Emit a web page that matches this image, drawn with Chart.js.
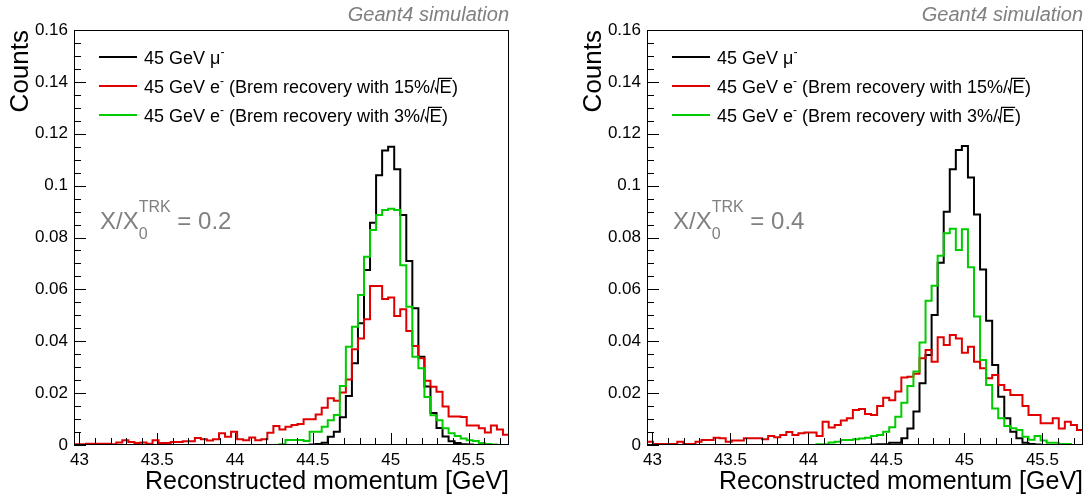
<!DOCTYPE html>
<html>
<head>
<meta charset="utf-8">
<script src="https://cdn.jsdelivr.net/npm/chart.js@4.4.0/dist/chart.umd.min.js"></script>
<style>
    body { margin: 0; background: #fff; width: 1089px; height: 499px; overflow: hidden; position: relative; }
    canvas { position: absolute; top: 0; }
</style>
</head>
<body>
<canvas id="leftChart" width="545" height="499" style="left:0"></canvas>
<canvas id="rightChart" width="544" height="499" style="left:545px"></canvas>
<script>
// Histogram range (72 bins) and axis ticks
const binLow = 42.965;
const binHigh = 45.76;
const xTicks = [43, 43.5, 44, 44.5, 45, 45.5];
const xLabels = ['43', '43.5', '44', '44.5', '45', '45.5'];
const yTicks = [0, 0.02, 0.04, 0.06, 0.08, 0.1, 0.12, 0.14, 0.16];
const yLabels = ['0', '0.02', '0.04', '0.06', '0.08', '0.1', '0.12', '0.14', '0.16'];
const panelLabels = ['0.2', '0.4'];

// Left panel, X/X0 = 0.2
const muonA = [
    0, 0, 0, 0, 0, 0, 0, 0, 0, 0,
    0, 0, 0, 0, 0, 0, 0, 0, 0, 0,
    0, 0, 0, 0, 0, 0, 0, 0, 0, 0,
    0, 0, 0, 0, 0, 0, 0, 0, 0, 0.0002,
    0.0004, 0.0009, 0.0032, 0.0051, 0.0107, 0.0189, 0.0315, 0.0469, 0.0675, 0.0857,
    0.104, 0.1135, 0.115, 0.1063, 0.0887, 0.0709, 0.0527, 0.034, 0.0226, 0.0123,
    0.0066, 0.0033, 0.0014, 0.0008, 0.0003, 0.0002, 0, 0, 0, 0,
    0, 0
];
const brem15A = [
    0.0003, 0.0003, 0.0005, 0.0005, 0.0005, 0.0005, 0.0003, 0.001, 0.0018, 0.0012,
    0.0008, 0.001, 0.0005, 0.0018, 0.0008, 0.0008, 0.0012, 0.0012, 0.0014, 0.0014,
    0.0027, 0.0022, 0.0017, 0.0022, 0.0045, 0.0032, 0.0051, 0.0022, 0.0018, 0.0029,
    0.0018, 0.0022, 0.0047, 0.0073, 0.006, 0.007, 0.0077, 0.0081, 0.0099, 0.0099,
    0.0118, 0.0144, 0.018, 0.0171, 0.0202, 0.0253, 0.0369, 0.0411, 0.0485, 0.0613,
    0.0613, 0.0563, 0.0569, 0.0497, 0.0523, 0.044, 0.0382, 0.0334, 0.0248, 0.0225,
    0.0205, 0.0148, 0.011, 0.011, 0.0108, 0.0075, 0.0075, 0.0065, 0.0048, 0.0075,
    0.006, 0.004
];
const brem3A = [
    0, 0, 0, 0, 0, 0, 0, 0, 0, 0,
    0, 0, 0, 0, 0, 0, 0, 0, 0, 0,
    0, 0, 0, 0, 0, 0, 0, 0, 0, 0,
    0, 0, 0, 0, 0.0003, 0.0019, 0.0019, 0.0019, 0.0015, 0.0051,
    0.0051, 0.007, 0.0095, 0.0116, 0.0227, 0.0379, 0.0456, 0.0578, 0.0726, 0.0829,
    0.0887, 0.0906, 0.0911, 0.0906, 0.0693, 0.0533, 0.034, 0.0296, 0.0185, 0.0115,
    0.0095, 0.0065, 0.0045, 0.0035, 0.0025, 0.0018, 0.0015, 0.0008, 0.0004, 0.0002,
    0, 0
];

// Right panel, X/X0 = 0.4
const muonB = [
    0, 0, 0, 0, 0, 0, 0, 0, 0, 0,
    0, 0, 0, 0, 0, 0, 0, 0, 0, 0,
    0, 0, 0, 0, 0, 0, 0, 0, 0, 0,
    0, 0, 0, 0, 0, 0, 0, 0.0002, 0.0003, 0.0003,
    0.0009, 0.0009, 0.0026, 0.0064, 0.0129, 0.0238, 0.0347, 0.0501, 0.0703, 0.0899,
    0.1063, 0.1137, 0.1153, 0.1031, 0.0889, 0.0677, 0.0479, 0.0308, 0.0186, 0.0103,
    0.0051, 0.0026, 0.0009, 0.0004, 0.0002, 0, 0, 0, 0, 0,
    0, 0
];
const brem15B = [
    0.0013, 0.0004, 0.0004, 0.0004, 0.0004, 0.0013, 0.0004, 0.0004, 0.0013, 0.0019,
    0.0019, 0.0028, 0.0026, 0.0013, 0.0017, 0.0017, 0.0026, 0.0026, 0.0026, 0.0022,
    0.0035, 0.003, 0.0039, 0.005, 0.0039, 0.0045, 0.0048, 0.0048, 0.0035, 0.009,
    0.0067, 0.0077, 0.0094, 0.0103, 0.0135, 0.0139, 0.012, 0.0116, 0.015, 0.0182,
    0.0173, 0.0206, 0.026, 0.0263, 0.0275, 0.0334, 0.0366, 0.0321, 0.0415, 0.0386,
    0.0424, 0.0411, 0.0356, 0.0379, 0.0321, 0.0296, 0.0257, 0.027, 0.0231, 0.0212,
    0.0193, 0.0193, 0.015, 0.0116, 0.0116, 0.0084, 0.0084, 0.0103, 0.0064, 0.009,
    0.0077, 0.0058
];
const brem3B = [
    0, 0, 0, 0, 0, 0, 0, 0, 0, 0,
    0, 0, 0, 0, 0, 0, 0, 0, 0, 0,
    0, 0, 0, 0, 0, 0, 0, 0, 0.0003, 0.0003,
    0.001, 0.0013, 0.0019, 0.0019, 0.0022, 0.0025, 0.0028, 0.0035, 0.0039, 0.0051,
    0.0068, 0.0109, 0.0163, 0.0227, 0.0283, 0.0395, 0.0556, 0.0614, 0.073, 0.0816,
    0.0834, 0.0752, 0.0832, 0.0685, 0.0495, 0.0328, 0.0231, 0.0141, 0.0103, 0.0073,
    0.0065, 0.0058, 0.0032, 0.002, 0.0035, 0.0017, 0.0009, 0.0009, 0.0004, 0.0004,
    0, 0
];

const FONT = "'Liberation Sans', Arial, sans-serif";
const RED = '#e00000';
const GREEN = '#00cc00';
const GRAY = '#808080';

// Histogram -> step points at bin edges
function histPoints(values) {
    const w = (binHigh - binLow) / values.length;
    const pts = values.map((v, i) => ({ x: binLow + i * w, y: v }));
    pts.push({ x: binHigh, y: values[values.length - 1] });
    return pts;
}

// Text with sub/superscripts, drawn piece by piece
function drawRich(ctx, x, y, parts, color) {
    ctx.fillStyle = color;
    ctx.strokeStyle = color;
    ctx.textBaseline = 'alphabetic';
    ctx.textAlign = 'left';
    parts.forEach(p => {
        ctx.font = p.size + 'px ' + FONT;
        if (p.sqrt) {
            const w = ctx.measureText(p.t).width;
            const h = p.size * 0.78;
            ctx.lineWidth = 1.2;
            ctx.beginPath();
            ctx.moveTo(x, y - h * 0.35);
            ctx.lineTo(x + 2, y);
            ctx.lineTo(x + 3.5, y - h);
            ctx.lineTo(x + 5 + w, y - h);
            ctx.stroke();
            ctx.fillText(p.t, x + 4.5, y);
            x += w + 5;
        } else {
            ctx.fillText(p.t, x, y + (p.dy || 0));
            x += ctx.measureText(p.t).width;
        }
    });
}

// Frame, inward ticks, legend and labels (ROOT style)
const rootStyle = {
    id: 'rootStyle',
    afterDraw(chart, args, opts) {
        const ctx = chart.ctx;
        const a = chart.chartArea;
        const xs = chart.scales.x;
        const ys = chart.scales.y;
        ctx.save();
        ctx.strokeStyle = '#000';
        ctx.lineWidth = 1;
        ctx.strokeRect(Math.round(a.left) + 0.5, Math.round(a.top) + 0.5,
            Math.round(a.right - a.left) - 1, Math.round(a.bottom - a.top) - 1);

        // y ticks: major every 0.02, minor every 0.005
        ctx.beginPath();
        for (let i = 0; i < yTicks.length; i++) {
            for (let j = 0; j < 4; j++) {
                if (i === yTicks.length - 1 && j > 0) break;
                const v = yTicks[i] + j * 0.005;
                const py = Math.round(ys.getPixelForValue(v)) + 0.5;
                const len = j === 0 ? 12 : 7;
                ctx.moveTo(a.left, py);
                ctx.lineTo(a.left + len, py);
            }
        }
        // x ticks: major every 0.5, minor every 0.1
        for (let i = 0; i < xTicks.length; i++) {
            for (let j = 0; j < 5; j++) {
                const v = xTicks[i] + j * 0.1;
                if (v > binHigh) break;
                const px = Math.round(xs.getPixelForValue(v)) + 0.5;
                const len = j === 0 ? 12 : 7;
                ctx.moveTo(px, a.bottom);
                ctx.lineTo(px, a.bottom - len);
            }
        }
        ctx.stroke();

        // Geant4 label
        ctx.font = 'italic 20px ' + FONT;
        ctx.fillStyle = GRAY;
        ctx.textAlign = 'right';
        ctx.textBaseline = 'alphabetic';
        ctx.fillText('Geant4 simulation', a.right, 21);

        // Legend
        const rows = [
            { color: '#000', parts: [{ t: '45 GeV μ', size: 18 }, { t: '-', size: 12, dy: -8 }] },
            { color: RED, parts: [{ t: '45 GeV e', size: 18 }, { t: '-', size: 12, dy: -8 },
                { t: ' (Brem recovery with 15%/', size: 18 }, { t: 'E', size: 18, sqrt: true }, { t: ')', size: 18 }] },
            { color: GREEN, parts: [{ t: '45 GeV e', size: 18 }, { t: '-', size: 12, dy: -8 },
                { t: ' (Brem recovery with 3%/', size: 18 }, { t: 'E', size: 18, sqrt: true }, { t: ')', size: 18 }] }
        ];
        const rowY = [57, 86, 115];
        rows.forEach((r, i) => {
            ctx.strokeStyle = r.color;
            ctx.lineWidth = 2;
            ctx.beginPath();
            ctx.moveTo(a.left + 25, rowY[i]);
            ctx.lineTo(a.left + 63, rowY[i]);
            ctx.stroke();
            drawRich(ctx, a.left + 70, rowY[i] + 6.5, r.parts, '#000');
        });

        // X/X0 annotation
        drawRich(ctx, a.left + 26, 229, [
            { t: 'X/X', size: 24 },
            { t: '0', size: 16, dy: 10 }
        ], GRAY);
        ctx.font = '24px ' + FONT;
        const base = a.left + 26 + ctx.measureText('X/X').width;
        drawRich(ctx, base, 212, [{ t: 'TRK', size: 16 }], GRAY);
        ctx.font = '16px ' + FONT;
        drawRich(ctx, base + ctx.measureText('TRK').width, 229,
            [{ t: ' = ' + opts.label, size: 24 }], GRAY);
        ctx.restore();
    }
};

function makeChart(id, muon, b15, b3, label, padLeft, padRight) {
    const datasets = [
        { data: histPoints(b3), borderColor: GREEN },
        { data: histPoints(b15), borderColor: RED },
        { data: histPoints(muon), borderColor: '#000' }
    ].map(d => Object.assign(d, { stepped: true, borderWidth: 2, pointRadius: 0, fill: false }));

    return new Chart(document.getElementById(id), {
        type: 'line',
        data: { datasets: datasets },
        options: {
            responsive: false,
            animation: false,
            layout: { padding: { left: padLeft, right: padRight, top: 30, bottom: 0 } },
            plugins: {
                legend: { display: false },
                tooltip: { enabled: false },
                rootStyle: { label: label }
            },
            scales: {
                x: {
                    type: 'linear',
                    min: binLow,
                    max: binHigh,
                    afterBuildTicks: s => { s.ticks = xTicks.map(v => ({ value: v })); },
                    afterFit: s => { s.height = 54; },
                    grid: { display: false, drawTicks: false },
                    border: { display: false },
                    ticks: {
                        autoSkip: false, maxRotation: 0, padding: 5, color: '#000',
                        font: { family: FONT, size: 17 },
                        callback: (v, i) => xLabels[i]
                    },
                    title: {
                        display: true, text: 'Reconstructed momentum [GeV]', align: 'end',
                        color: '#000', font: { family: FONT, size: 25 }, padding: { top: 0, bottom: 2 }
                    }
                },
                y: {
                    min: 0,
                    max: 0.16,
                    afterBuildTicks: s => { s.ticks = yTicks.map(v => ({ value: v })); },
                    afterFit: s => { s.width = 74; },
                    grid: { display: false, drawTicks: false },
                    border: { display: false },
                    ticks: {
                        padding: 6, color: '#000',
                        font: { family: FONT, size: 17 },
                        callback: (v, i) => yLabels[i]
                    },
                    title: {
                        display: true, text: 'Counts', align: 'end',
                        color: '#000', font: { family: FONT, size: 26 }, padding: { top: 5, bottom: 0 }
                    }
                }
            }
        },
        plugins: [rootStyle]
    });
}

makeChart('leftChart', muonA, brem15A, brem3A, panelLabels[0], 0, 36);
makeChart('rightChart', muonB, brem15B, brem3B, panelLabels[1], 28, 6);
</script>
</body>
</html>
